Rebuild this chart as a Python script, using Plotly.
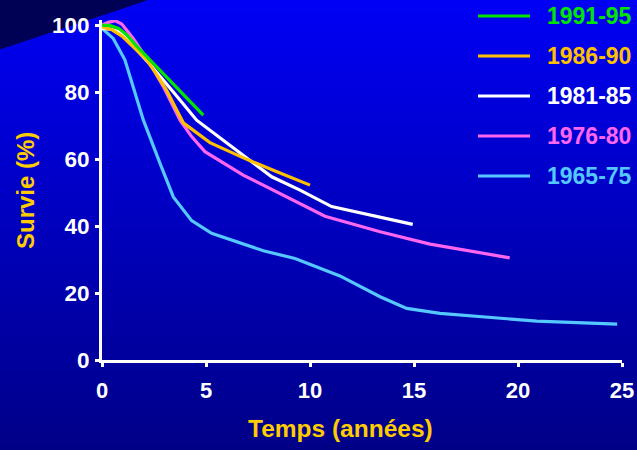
import base64, struct, zlib
import numpy as np
import plotly.graph_objects as go

# ---------------- data ----------------
series_names = ["1991-95", "1986-90", "1981-85", "1976-80", "1965-75"]
series_colors = ["#00E600", "#FFC000", "#FFFFFF", "#FF66F0", "#55C8FF"]

green_x = [0, 0.4, 0.8, 1.2, 1.7, 2.3, 3.5, 4.87]
green_y = [100, 99.8, 99, 97, 93.5, 89.6, 81.8, 73.1]

yellow_x = [0, 0.5, 1.0, 1.6, 2.15, 2.6, 3.1, 3.67, 3.91, 5.19, 6.96, 8.5, 10.0]
yellow_y = [99.5, 98.5, 96.5, 93, 89.6, 85.5, 80.6, 73.7, 70.8, 64.9, 59.9, 56, 52.2]

white_x = [0, 0.4, 0.87, 1.5, 2.3, 3.5, 4.55, 8.16, 9.52, 11.04, 14.94]
white_y = [99, 98.8, 98, 93.6, 88.3, 79.5, 71.6, 54.7, 50.7, 45.8, 40.5]

pink_x = [0, 0.3, 0.62, 0.95, 1.5, 2.3, 2.95, 3.75, 4.31, 4.95, 6.79, 8.56, 10.72, 13.37, 15.77, 19.6]
pink_y = [100, 100.8, 101.3, 100.3, 96, 88.6, 81.6, 71.6, 66.7, 62.2, 55.2, 49.7, 42.9, 38.3, 34.6, 30.5]

cyan_x = [0, 0.54, 1.1, 1.67, 1.99, 2.79, 3.43, 4.31, 5.27, 7.76, 9.28, 11.44, 13.37, 14.65, 16.25, 20.9, 24.77]
cyan_y = [99, 96, 89.6, 77.6, 71.6, 58.7, 48.7, 41.6, 37.8, 32.6, 30.3, 25.1, 18.9, 15.4, 13.9, 11.6, 10.7]

x_ticks = [0, 5, 10, 15, 20, 25]
y_ticks = [0, 20, 40, 60, 80, 100]

series_data = [(green_x, green_y), (yellow_x, yellow_y), (white_x, white_y),
               (pink_x, pink_y), (cyan_x, cyan_y)]

# ---------------- background image ----------------
W, H = 637, 450
ML, MR, MT, MB = 102, 15, 20, 90
PW, PH = W - ML - MR, H - MT - MB

ys = np.arange(H)[:, None]
xs = np.arange(W)[None, :]
blue = (245 - (ys / (H - 1)) * 110).repeat(W, axis=1)
tri = (ys < 49 - xs * (49 / 146))
blue = np.where(tri, 85, blue)
img = np.zeros((H, W, 3), dtype=np.uint8)
img[..., 2] = np.clip(blue, 0, 255).astype(np.uint8)

raw = b"".join(b"\x00" + img[r].tobytes() for r in range(H))


def chunk(tag, data):
    return struct.pack(">I", len(data)) + tag + data + struct.pack(">I", zlib.crc32(tag + data) & 0xFFFFFFFF)


png = (b"\x89PNG\r\n\x1a\n" + chunk(b"IHDR", struct.pack(">IIBBBBB", W, H, 8, 2, 0, 0, 0))
       + chunk(b"IDAT", zlib.compress(raw, 9)) + chunk(b"IEND", b""))
bg_uri = "data:image/png;base64," + base64.b64encode(png).decode()

# ---------------- figure ----------------
fig = go.Figure()
order = [4, 3, 2, 1, 0]
for i in order:
    x, y = series_data[i]
    fig.add_trace(go.Scatter(x=x, y=y, mode="lines", name=series_names[i],
                             line=dict(color=series_colors[i], width=3.2),
                             showlegend=False, hoverinfo="skip"))

FONT = "Liberation Sans, Arial, sans-serif"
fig.update_layout(
    width=W, height=H,
    autosize=False,
    margin=dict(l=ML, r=MR, t=MT, b=MB, pad=0, autoexpand=False),
    paper_bgcolor="#0000B0",
    plot_bgcolor="rgba(0,0,0,0)",
    showlegend=False,
    images=[dict(source=bg_uri, xref="paper", yref="paper",
                 x=-ML / PW, y=1 + MT / PH, sizex=W / PW, sizey=H / PH,
                 sizing="stretch", xanchor="left", yanchor="top", layer="below")],
    xaxis=dict(range=[0, 25], tickvals=x_ticks, showgrid=False, zeroline=False,
               automargin=False,
               showline=True, linecolor="white", linewidth=3,
               ticks="outside", ticklen=4, tickwidth=3, tickcolor="white",
               tickfont=dict(family=FONT, size=22, color="white", weight="bold"),
               ticklabelstandoff=5),
    yaxis=dict(range=[0, 101.5], tickvals=y_ticks, showgrid=False, zeroline=False,
               automargin=False,
               showline=True, linecolor="white", linewidth=3,
               ticks="outside", ticklen=4, tickwidth=3, tickcolor="white",
               tickfont=dict(family=FONT, size=22.5, color="white", weight="bold"),
               ticklabelstandoff=1),
)

annotations = [
    dict(text="<b>Temps (années)</b>", xref="paper", yref="paper",
         x=(340 - ML) / PW, y=-(428 - MT - PH) / PH, xanchor="center", yanchor="middle",
         showarrow=False, font=dict(family=FONT, size=24.5, color="#FFCC00")),
    dict(text="<b>Survie (%)</b>", xref="paper", yref="paper",
         x=(25 - ML) / PW, y=1 - (191 - MT) / PH, xanchor="center", yanchor="middle",
         textangle=-90, showarrow=False, font=dict(family=FONT, size=24, color="#FFCC00")),
]
shapes = []
legend_y = [16, 56, 96, 136, 176]
for name, col, ly in zip(series_names, series_colors, legend_y):
    yp = 1 - (ly - MT) / PH
    shapes.append(dict(type="line", xref="paper", yref="paper",
                       x0=(478 - ML) / PW, x1=(530 - ML) / PW, y0=yp, y1=yp,
                       line=dict(color=col, width=3)))
    annotations.append(dict(text="<b>" + name + "</b>", xref="paper", yref="paper",
                            x=(545 - ML) / PW, y=yp, xanchor="left", yanchor="middle",
                            showarrow=False, font=dict(family=FONT, size=23, color=col)))
fig.update_layout(annotations=annotations, shapes=shapes)

fig.write_html("out.html",
               config={"displayModeBar": False, "responsive": False},
               post_script="document.body.style.margin='0';document.body.style.padding='0';"
                           "document.documentElement.style.overflow='hidden';")
